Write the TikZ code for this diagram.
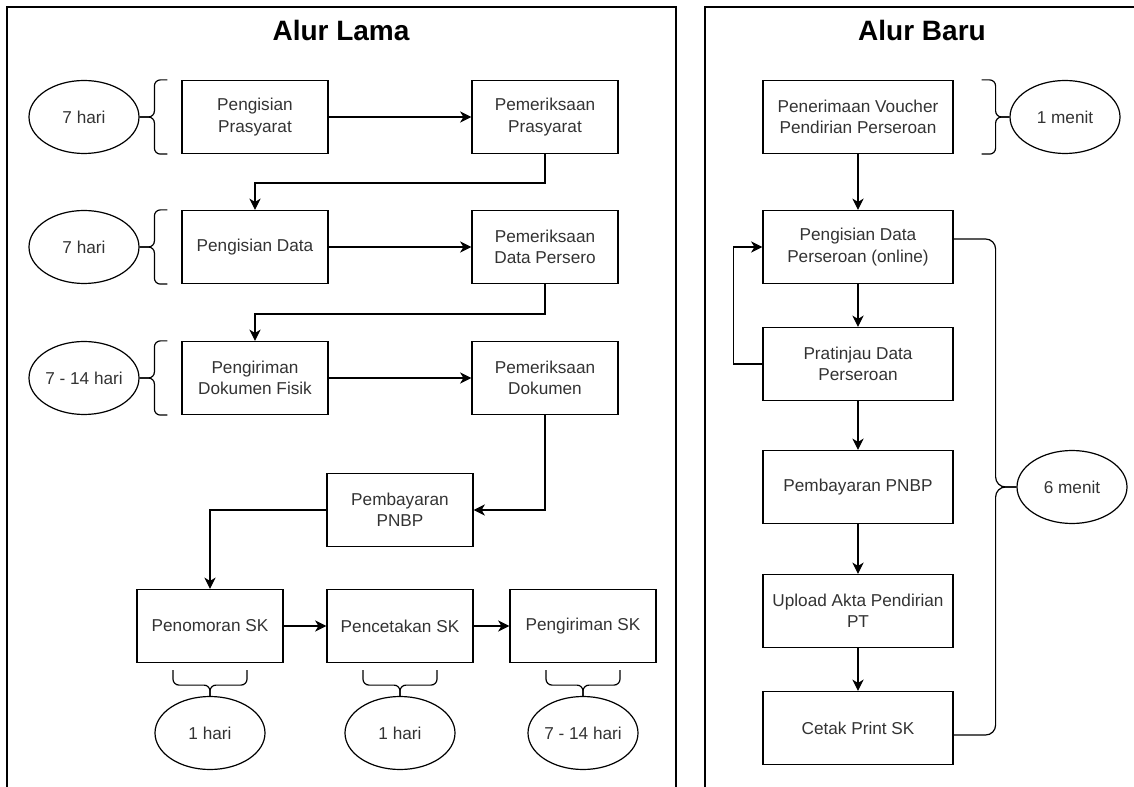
\documentclass[tikz,border=0pt]{standalone}
\usepackage{fontspec}
\setmainfont{Liberation Sans}
\usepackage{tikz}
\usetikzlibrary{shapes.geometric,arrows.meta}
\newcommand{\boxfont}{\fontsize{12.9pt}{16pt}\selectfont}
\newcommand{\titlefont}{\fontsize{21pt}{25pt}\selectfont\bfseries}
\tikzstyle{procBox} = [rectangle, draw, line width=0.9pt, text=black!80, align=center, font=\boxfont, minimum width=109.5pt, minimum height=54.75pt, inner sep=2pt]
\tikzstyle{wideBox} = [procBox, minimum width=142.5pt]
\tikzstyle{timeNode} = [ellipse, draw, line width=0.9pt, text=black!80, font=\boxfont, minimum width=82.5pt, minimum height=54.75pt, inner sep=0pt]
\tikzstyle{titleNode} = [font=\titlefont, anchor=base]
\tikzstyle{bracket} = [line width=0.9pt, rounded corners=4.5pt]
\tikzstyle{bigBracket} = [line width=0.9pt, rounded corners=7.5pt]
\tikzstyle{frame} = [line width=1.4pt]

\begin{document}
\begin{tikzpicture}[x=0.75pt, y=-0.75pt, line width=0.9pt, >={Stealth[length=8.5pt,width=8.5pt,inset=2.5pt]}]
  \useasboundingbox (0,0) rectangle (1134,787);
  % frames
  \draw[frame] (7,787) -- (7,7) -- (676,7) -- (676,787);
  \draw[frame] (705,787) -- (705,7) -- (1134,7);
  \node (lama)[titleNode] at (341,41) {Alur Lama};
  \node (baru)[titleNode] at (922,41) {Alur Baru};

  % alur lama
  \node (pp) at (255,117) [procBox] {Pengisian\\Prasyarat};
  \node (mp) at (545,117) [procBox] {Pemeriksaan\\Prasyarat};
  \node (pd) at (255,247) [procBox] {Pengisian Data};
  \node (md) at (545,247) [procBox] {Pemeriksaan\\Data Persero};
  \node (kf) at (255,378) [procBox] {Pengiriman\\Dokumen Fisik};
  \node (mk) at (545,378) [procBox] {Pemeriksaan\\Dokumen};
  \node (bayar) at (400,510) [procBox] {Pembayaran\\PNBP};
  \node (nomor) at (210,626) [procBox] {Penomoran SK};
  \node (cetak) at (400,626) [procBox] {Pencetakan SK};
  \node (kirim) at (583,626) [procBox] {Pengiriman SK};
  \node (e1) at (84,117) [timeNode] {7 hari};
  \node (e2) at (84,247) [timeNode] {7 hari};
  \node (e3) at (84,378) [timeNode] {7 - 14 hari};
  \node (h1) at (210,733) [timeNode] {1 hari};
  \node (h2) at (400,733) [timeNode] {1 hari};
  \node (h3) at (583,733) [timeNode] {7 - 14 hari};

  \draw[->] (pp) -- (mp);
  \draw[->] (mp.south) -- ++(0,29) -| (pd.north);
  \draw[->] (pd) -- (md);
  \draw[->] (md.south) -- ++(0,30) -| (kf.north);
  \draw[->] (kf) -- (mk);
  \draw[->] (mk.south) |- (bayar.east);
  \draw[->] (bayar.west) -| (nomor.north);
  \draw[->] (nomor) -- (cetak);
  \draw[->] (cetak) -- (kirim);

  \foreach \b/\e in {pp/e1, pd/e2, kf/e3} {
    \draw[bracket] ([xshift=-10.5pt]\b.north west) -| ([xshift=-20.25pt]\b.west) -- (\e.east);
    \draw[bracket] ([xshift=-10.5pt]\b.south west) -| ([xshift=-20.25pt]\b.west) -- (\e.east);
  }
  \foreach \b/\e in {nomor/h1, cetak/h2, kirim/h3} {
    \draw[bracket] ([shift={(-27.75pt,-5.25pt)}]\b.south) |- ([yshift=-16.5pt]\b.south) -- (\e.north);
    \draw[bracket] ([shift={(27.75pt,-5.25pt)}]\b.south) |- ([yshift=-16.5pt]\b.south) -- (\e.north);
  }

  % alur baru
  \node (voucher) at (858,117) [wideBox] {Penerimaan Voucher\\Pendirian Perseroan};
  \node (isi) at (858,247) [wideBox] {Pengisian Data\\Perseroan (online)};
  \node (tinjau) at (858,364) [wideBox] {Pratinjau Data\\Perseroan};
  \node (bayarBaru) at (858,487) [wideBox] {Pembayaran PNBP};
  \node (upload) at (858,611) [wideBox] {Upload Akta Pendirian\\PT};
  \node (cetakPrint) at (858,728) [wideBox] {Cetak Print SK};
  \node (m1) at (1065,117) [timeNode] {1 menit};
  \node (m6) at (1072,487) [timeNode] {6 menit};

  \draw[->] (voucher) -- (isi);
  \draw[->] (isi) -- (tinjau);
  \draw[->] (tinjau) -- (bayarBaru);
  \draw[->] (bayarBaru) -- (upload);
  \draw[->] (upload) -- (cetakPrint);
  \draw[->] (tinjau.west) -- ++(-29,0) |- (isi.west);

  \draw[bracket] ([xshift=21pt]voucher.north east) -| ([xshift=31.5pt]voucher.east) -- (m1.west);
  \draw[bracket] ([xshift=21pt]voucher.south east) -| ([xshift=31.5pt]voucher.east) -- (m1.west);
  \draw[bigBracket] ([yshift=6pt]isi.east) -| ([xshift=31.5pt]bayarBaru.east) -- (m6.west);
  \draw[bigBracket] ([yshift=-5.25pt]cetakPrint.east) -| ([xshift=31.5pt]bayarBaru.east) -- (m6.west);
\end{tikzpicture}
\end{document}
